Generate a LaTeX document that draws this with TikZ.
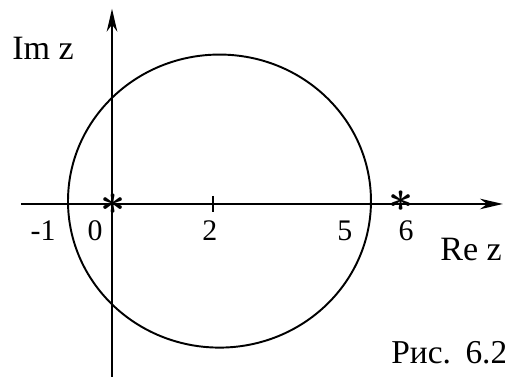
\documentclass[tikz,border=0pt]{standalone}
\usepackage{fontspec}
\setmainfont{Liberation Serif}
\usetikzlibrary{arrows.meta}
\tikzset{>={Stealth[length=13pt,width=6pt,inset=4pt]},
  axis/.style={->,line width=1.1pt,black},
  curve/.style={line width=1.1pt,black},
  lbl/.style={inner sep=0pt,anchor=base west,font=\fontsize{19.4}{22}\selectfont},
  numlbl/.style={inner sep=0pt,anchor=base,font=\fontsize{17}{20}\selectfont},
  caption/.style={inner sep=0pt,anchor=base west,font=\fontsize{19}{22}\selectfont},
  pole/.style={inner sep=0pt,font=\fontsize{30}{30}\selectfont\boldmath}}

\begin{document}
\begin{tikzpicture}[x=0.964cm,y=0.964cm]
  \useasboundingbox (-2.324,-3.589) rectangle (8.154,4.232);
  % axes
  \coordinate (xstart) at (-1.89,0);
  \coordinate (xend) at (8.11,0);
  \coordinate (ybot) at (0,-3.589);
  \coordinate (ytop) at (0,4.05);
  \draw[axis] (xstart) -- (xend);
  \draw[axis] (ybot) -- (ytop);
  \node[lbl] (imz) at (-2.075,2.988) {Im z};
  \node[lbl] (rez) at (6.805,-1.183) {Re z};
  % circle
  \draw[curve] (2.23,0.06) ellipse [x radius=3.143,y radius=3.04];
  \coordinate (tickup) at (2.095,0.166);
  \coordinate (tickdn) at (2.095,-0.166);
  \draw[curve] (tickup) -- (tickdn);
  % poles
  \node[pole] (p0) at (0.03,0) {$\ast$};
  \node[pole] (p6) at (6.0,0.06) {$\ast$};
  % numbers
  \node[numlbl] (nm1) at (-1.43,-0.768) {-1};
  \node[numlbl] (n0) at (-0.353,-0.768) {0};
  \node[numlbl] (n2) at (2.03,-0.768) {2};
  \node[numlbl] (n5) at (4.83,-0.768) {5};
  \node[numlbl] (n6) at (6.10,-0.768) {6};
  \node[caption] (fig) at (5.788,-3.32) {Рис.\hspace{2pt} 6.2};
\end{tikzpicture}
\end{document}
